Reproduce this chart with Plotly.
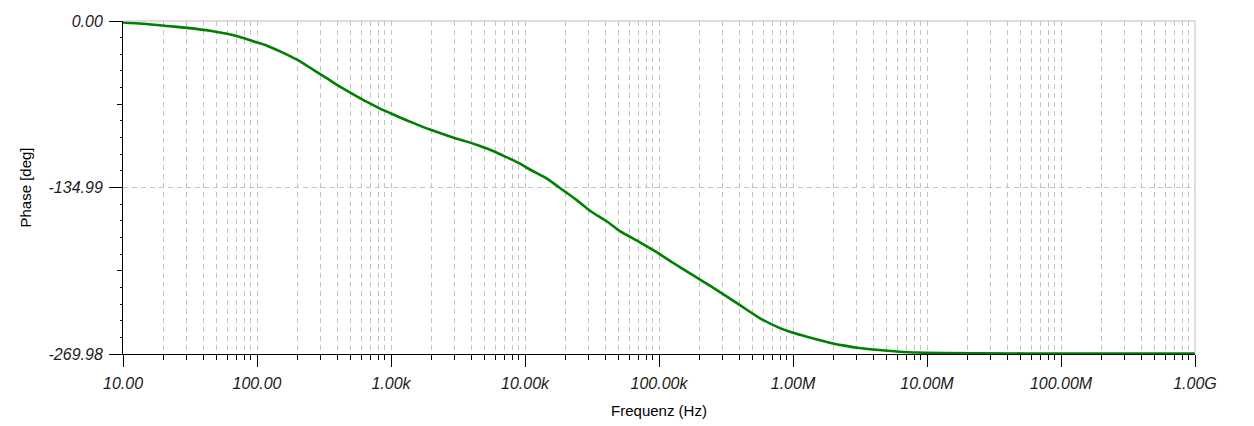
import plotly.graph_objects as go

# ---- data ----
freq_hz = [10.0, 14.1, 21.3, 30.0, 44.6, 59.7, 74.7, 93.3, 118.7, 148.5, 198.9,
           261.8, 333, 395, 511, 662, 828, 1000, 1167, 1459, 1954, 2901, 3690,
           4616, 5770, 7340, 9180, 10890, 14590, 18240, 24440, 30550, 40930,
           51170, 72110, 96600, 127100, 170300, 202300, 285300, 402000, 567300,
           800000, 1.0e6, 1.271e6, 1.589e6, 1.99e6, 2.36e6, 3.0e6, 3.95e6,
           5.97e6, 8.42e6, 2.49e7, 1.0e8, 1.0e9]
phase_deg = [-1.2, -2.2, -4.0, -5.6, -7.9, -10.4, -13.0, -16.4, -20.0, -24.6, -31.4,
             -39.4, -46.5, -51.8, -58.8, -65.6, -71.0, -75.0, -78.2, -82.6, -88.0,
             -94.4, -97.8, -101.4, -105.4, -110.6, -115.6, -120.4, -127.8, -135.4,
             -145.4, -153.8, -162.6, -170.4, -179.4, -187.6, -196.0, -204.6, -209.6,
             -219.8, -230.4, -241.0, -249.0, -252.8, -256.0, -258.8, -261.4, -263.0,
             -264.9, -266.3, -267.9, -268.8, -269.4, -269.6, -269.7]

x_tickvals = [1e1, 1e2, 1e3, 1e4, 1e5, 1e6, 1e7, 1e8, 1e9]
x_ticktext = ["10.00", "100.00", "1.00k", "10.00k", "100.00k", "1.00M",
              "10.00M", "100.00M", "1.00G"]
y_tickvals = [0.0, -134.99, -269.98]
y_ticktext = ["0.00", "-134.99", "-269.98"]
y_midticks = [-67.495, -202.485]

GRID = "#c4c4c4"
DASH = "5px,4px"
TICKFONT = dict(family="Liberation Sans, Arial, sans-serif", size=16,
                color="#1a1a1a", style="italic")
TITLEFONT = dict(family="Liberation Sans, Arial, sans-serif", size=15, color="#000000")

fig = go.Figure()
fig.add_trace(go.Scatter(x=freq_hz, y=phase_deg, mode="lines",
                         line=dict(color="#008000", width=2.6, shape="spline",
                                   smoothing=0.8),
                         showlegend=False))
# invisible copy to host the mid-length ticks on an overlay axis
fig.add_trace(go.Scatter(x=freq_hz, y=phase_deg, mode="lines", yaxis="y2",
                         line=dict(color="rgba(0,0,0,0)", width=1),
                         hoverinfo="skip", showlegend=False))

# the page body has an 8px margin, so the figure is offset by (8, 8)
fig.update_layout(
    width=1246, height=418,
    margin=dict(l=115, r=59, t=13, b=72),
    paper_bgcolor="white", plot_bgcolor="white",
    xaxis=dict(
        type="log", range=[1, 9], automargin=False,
        tickmode="array", tickvals=x_tickvals, ticktext=x_ticktext,
        ticks="outside", ticklen=12, tickcolor="black", tickwidth=1,
        showline=True, linecolor="black", linewidth=1,
        showgrid=True, gridcolor=GRID, griddash=DASH, gridwidth=1,
        zeroline=False,
        minor=dict(dtick="D1", ticks="outside", ticklen=5, tickcolor="black",
                   tickwidth=1, showgrid=True, gridcolor=GRID, griddash=DASH,
                   gridwidth=1),
        tickfont=TICKFONT, ticklabelstandoff=3,
        title=dict(text="Frequenz (Hz)", font=TITLEFONT, standoff=14),
    ),
    yaxis=dict(
        range=[-269.98, 0], automargin=False,
        tickmode="array", tickvals=y_tickvals, ticktext=y_ticktext,
        ticks="outside", ticklen=13, tickcolor="black", tickwidth=1,
        showline=True, linecolor="black", linewidth=1,
        showgrid=True, gridcolor=GRID, griddash=DASH, gridwidth=1,
        zeroline=False,
        minor=dict(tick0=0, dtick=13.499, ticks="outside", ticklen=2,
                   tickcolor="black", tickwidth=1, showgrid=False),
        tickfont=TICKFONT, ticklabelstandoff=3,
        title=dict(text="Phase [deg]", font=TITLEFONT, standoff=13),
    ),
    yaxis2=dict(
        overlaying="y", anchor="x", side="left", automargin=False,
        range=[-269.98, 0],
        tickmode="array", tickvals=y_midticks,
        ticks="outside", ticklen=5, tickcolor="black", tickwidth=1,
        showticklabels=False, showgrid=False, showline=False, zeroline=False,
    ),
    shapes=[
        dict(type="line", xref="paper", yref="paper", x0=0, x1=1, y0=1, y1=1,
             line=dict(color="#bdbdbd", width=1)),
        dict(type="line", xref="paper", yref="paper", x0=1, x1=1, y0=0, y1=1,
             line=dict(color="#bdbdbd", width=1)),
    ],
)

fig.write_html("out.html")
